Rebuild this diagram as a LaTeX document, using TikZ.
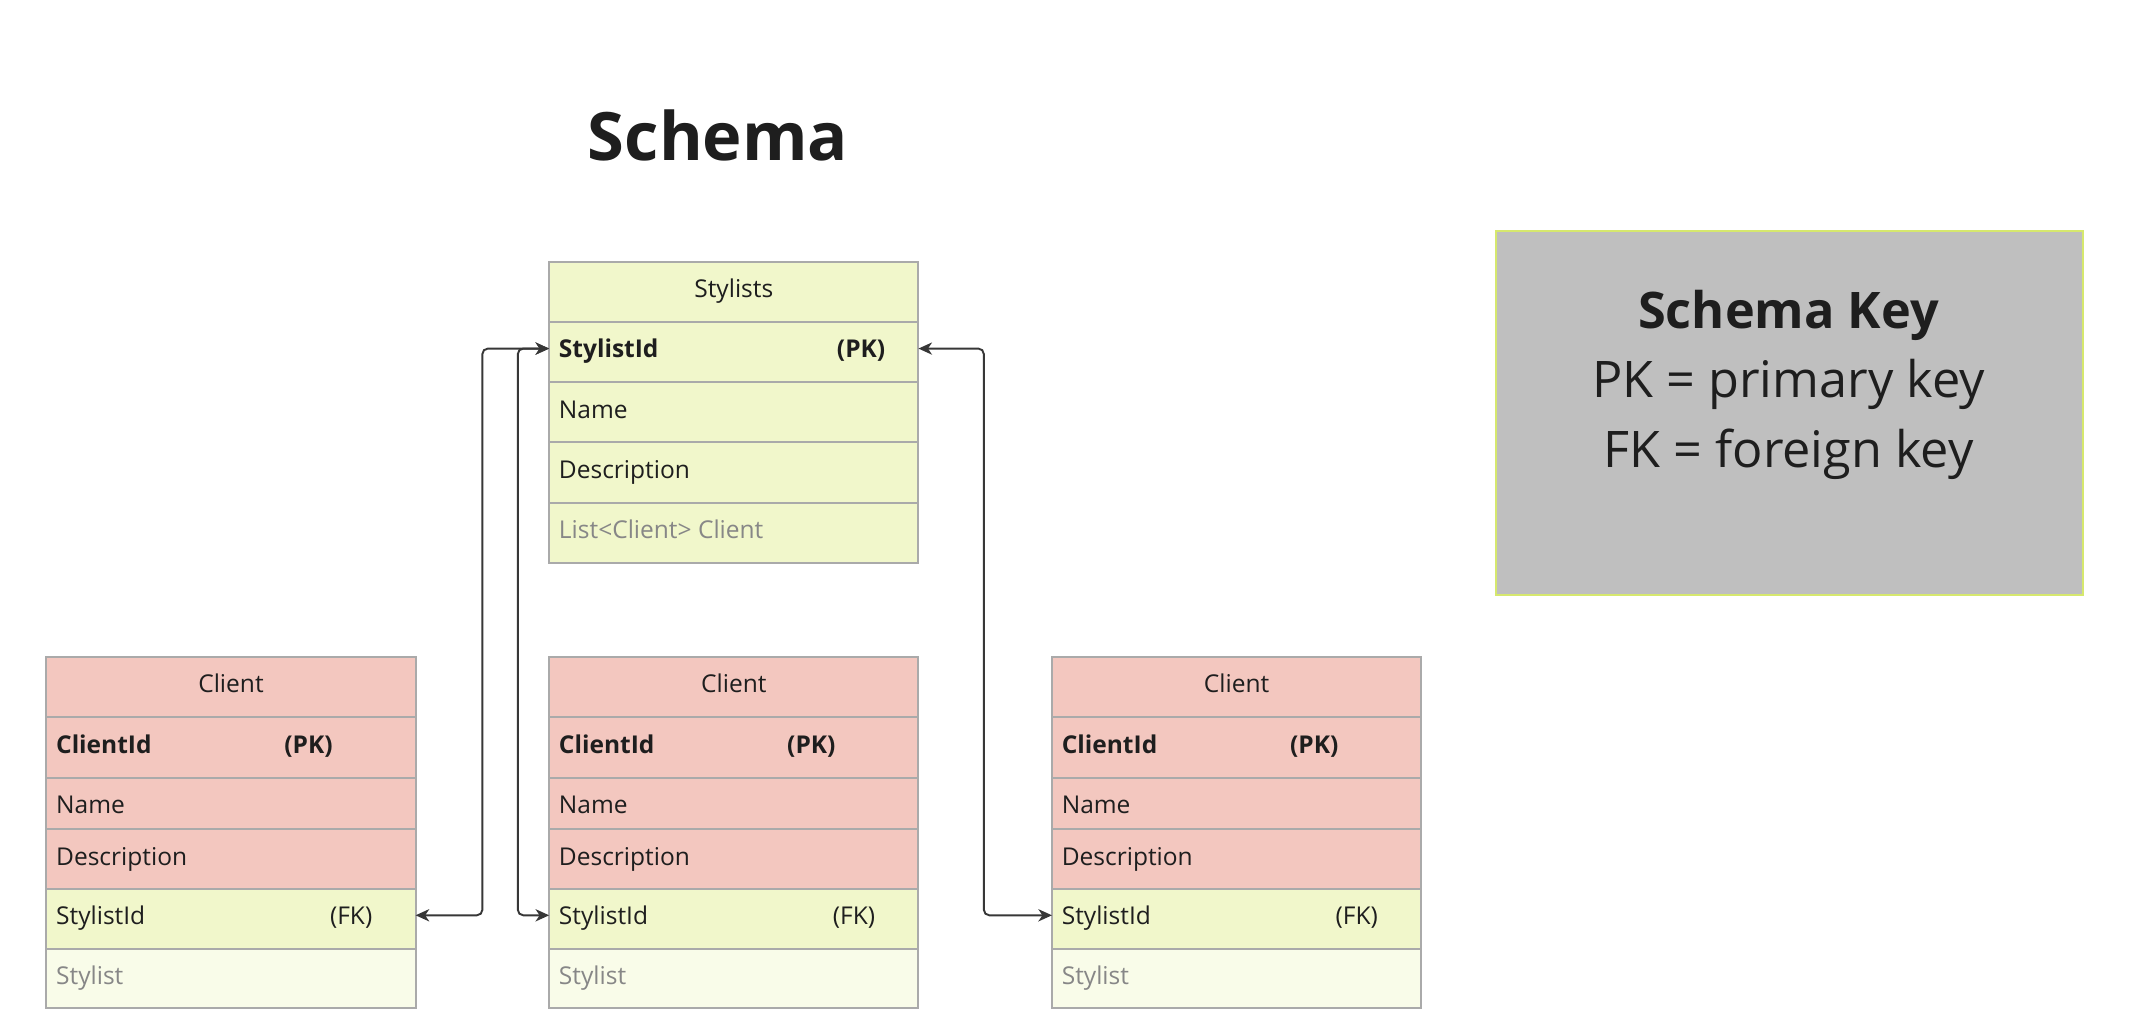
\documentclass[tikz,border=0pt]{standalone}
\usepackage{fontspec}
\setmainfont{Open Sans}
\usetikzlibrary{arrows.meta}
\definecolor{gborder}{RGB}{170,170,170}
\definecolor{stylfill}{RGB}{241,247,203}
\definecolor{clientfill}{RGB}{243,199,191}
\definecolor{lightfill}{RGB}{249,252,233}
\definecolor{keyfill}{RGB}{191,191,191}
\definecolor{keyborder}{RGB}{214,232,110}
\definecolor{textdark}{RGB}{30,30,30}
\definecolor{textgray}{RGB}{135,135,135}
\definecolor{linecol}{RGB}{55,55,55}
\tikzset{
  rowbox/.style={draw=gborder, line width=1.5pt, rectangle, anchor=north west, minimum width=271pt, inner sep=0pt, outer sep=0pt},
  ftxt/.style={inner sep=0pt, text=textdark, font=\fontsize{18}{22}\selectfont},
  gtxt/.style={ftxt, text=textgray},
  btxt/.style={ftxt, font=\fontsize{18}{22}\selectfont\bfseries},
  conn/.style={draw=linecol, line width=1.4pt, rounded corners=4pt, {Stealth[length=10pt,width=9pt,inset=3pt]}-{Stealth[length=10pt,width=9pt,inset=3pt]}},
}
\begin{document}
\begin{tikzpicture}[x=1pt,y=-1pt]
\useasboundingbox (0,0) rectangle (1569,757.35);
\fill[white] (0,0) rectangle (1569,757.35);

% title
\node[inner sep=0pt, anchor=base, text=textdark, font=\fontsize{49}{56}\selectfont\bfseries] (title) at (527,117.5) {Schema};

% Stylists table
\node[rowbox, fill=stylfill, minimum height=44.2pt] (s0) at (403,192) {};
\node[rowbox, fill=stylfill, minimum height=44.2pt] (s1) at (403,236.2) {};
\node[rowbox, fill=stylfill, minimum height=44.2pt] (s2) at (403,280.4) {};
\node[rowbox, fill=stylfill, minimum height=44.2pt] (s3) at (403,324.6) {};
\node[rowbox, fill=stylfill, minimum height=44.2pt] (s4) at (403,368.8) {};
\node[ftxt, anchor=base] (s0t) at (538.5,218.5) {Stylists};
\node[btxt, anchor=base west] (s1t) at (410,262.7) {StylistId};
\node[btxt, anchor=base west] (s1k) at (614,262.7) {(PK)};
\node[ftxt, anchor=base west] (s2t) at (410,306.9) {Name};
\node[ftxt, anchor=base west] (s3t) at (410,351.1) {Description};
\node[gtxt, anchor=base west] (s4t) at (410,395.3) {List<Client> Client};

% Client tables
\foreach \i/\x in {1/34,2/403,3/772}{
  \node[rowbox, fill=clientfill, minimum height=44.3pt] (c\i r0) at (\x,482) {};
  \node[rowbox, fill=clientfill, minimum height=44.3pt] (c\i r1) at (\x,526.3) {};
  \node[rowbox, fill=clientfill, minimum height=37.7pt] (c\i r2) at (\x,570.6) {};
  \node[rowbox, fill=clientfill, minimum height=44pt] (c\i r3) at (\x,608.3) {};
  \node[rowbox, fill=stylfill, minimum height=43.8pt] (c\i r4) at (\x,652.3) {};
  \node[rowbox, fill=lightfill, minimum height=43.9pt] (c\i r5) at (\x,696.1) {};
  \node[ftxt, anchor=base] (c\i t0) at ({\x+135.5},508.5) {Client};
  \node[btxt, anchor=base west] (c\i t1) at ({\x+7},552.8) {ClientId};
  \node[btxt, anchor=base west] (c\i k1) at ({\x+174.5},552.8) {(PK)};
  \node[ftxt, anchor=base west] (c\i t2) at ({\x+7},597.1) {Name};
  \node[ftxt, anchor=base west] (c\i t3) at ({\x+7},634.8) {Description};
  \node[ftxt, anchor=base west] (c\i t4) at ({\x+7},678.8) {StylistId};
  \node[ftxt, anchor=base west] (c\i k4) at ({\x+208},678.8) {(FK)};
  \node[gtxt, anchor=base west] (c\i t5) at ({\x+7},722.6) {Stylist};
}

% key box
\node[draw=keyborder, fill=keyfill, line width=1.5pt, rectangle, anchor=north west, minimum width=431pt, minimum height=267pt, inner sep=0pt] (key) at (1097,169) {};
\node[inner sep=0pt, anchor=base, text=textdark, font=\fontsize{37}{44}\selectfont\bfseries] (k1) at (1312.5,241) {Schema Key};
\node[inner sep=0pt, anchor=base, text=textdark, font=\fontsize{37}{44}\selectfont] (k2) at (1312.5,292) {PK = primary key};
\node[inner sep=0pt, anchor=base, text=textdark, font=\fontsize{37}{44}\selectfont] (k3) at (1312.5,343) {FK = foreign key};

% connectors
\coordinate (j1) at (354,0);
\coordinate (j2) at (380,0);
\coordinate (j3) at (722,0);
\path[conn] ([yshift=2.5pt]c1r4.east) -- ([yshift=2.5pt]c1r4.east -| j1) |- ([yshift=2.5pt]s1.west);
\path[conn] ([yshift=2.5pt]c2r4.west) -- ([yshift=2.5pt]c2r4.west -| j2) |- ([yshift=2.5pt]s1.west);
\path[conn] ([yshift=2.5pt]c3r4.west) -- ([yshift=2.5pt]c3r4.west -| j3) |- ([yshift=2.5pt]s1.east);
\end{tikzpicture}
\end{document}
